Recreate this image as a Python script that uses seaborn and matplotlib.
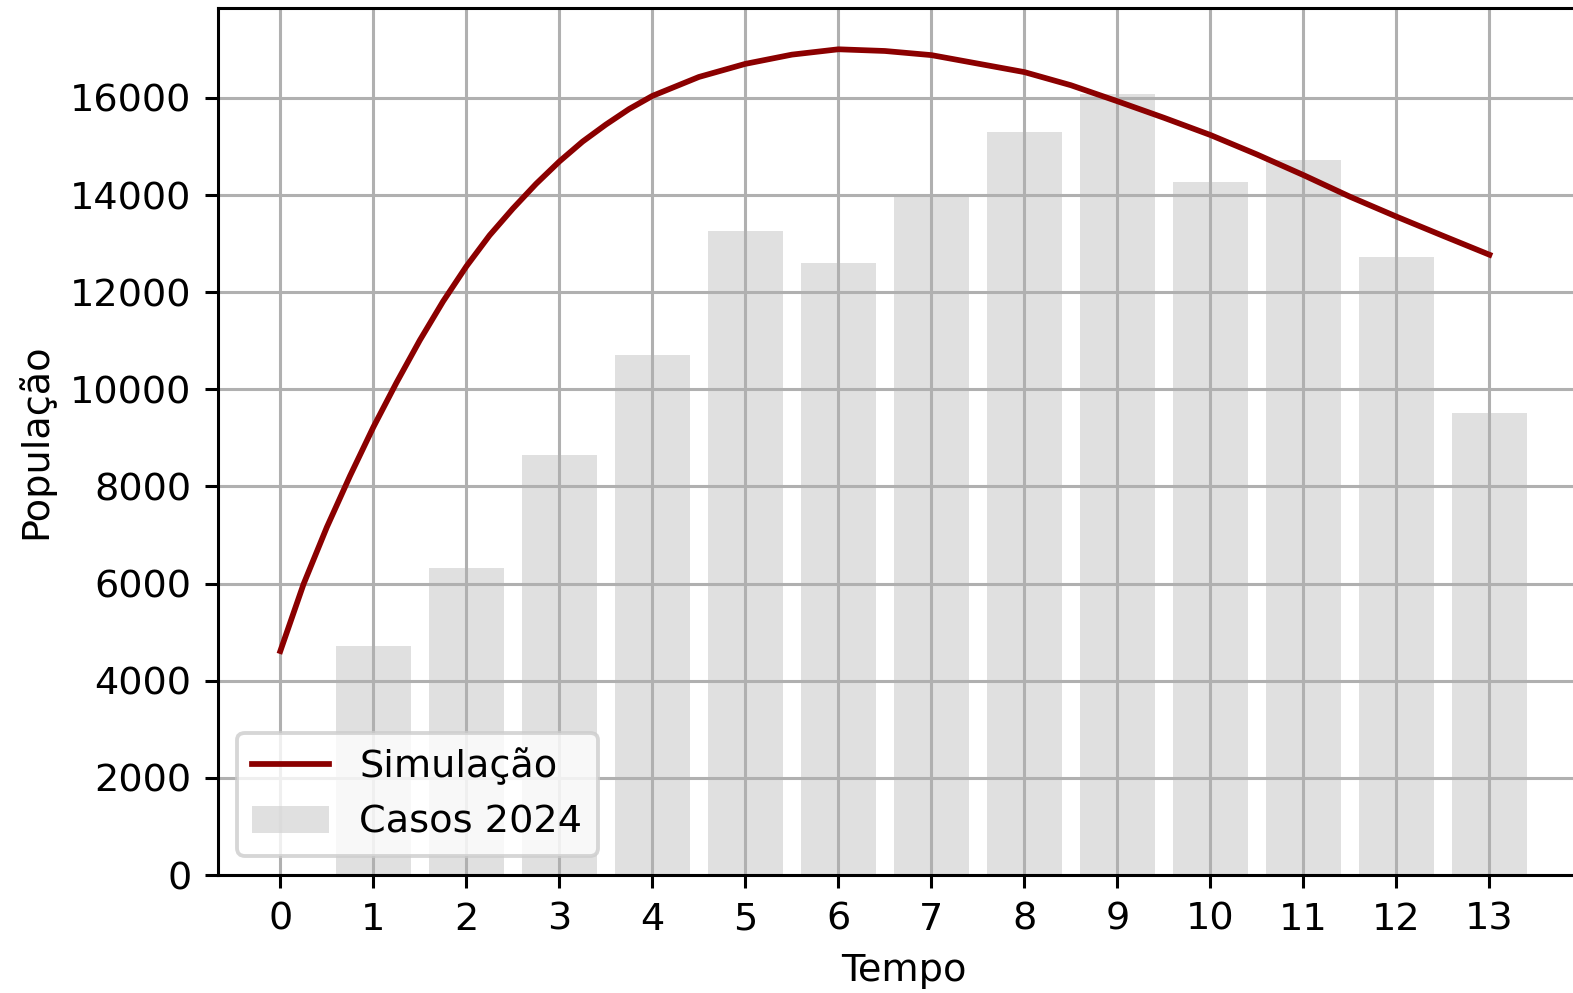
import matplotlib
matplotlib.use('Agg')
import matplotlib.pyplot as plt
import seaborn as sns

# Casos reais (barras)
tempo_casos = [1, 2, 3, 4, 5, 6, 7, 8, 9, 10, 11, 12, 13]
casos_2024 = [4720, 6330, 8650, 10700, 13250, 12610, 14000, 15300, 16070,
              14270, 14720, 12730, 9510]

# Curva da simulação
tempo_sim = [0, 0.25, 0.5, 0.75, 1, 1.25, 1.5, 1.75, 2, 2.25, 2.5, 2.75, 3,
             3.25, 3.5, 3.75, 4, 4.5, 5, 5.5, 6, 6.5, 7, 7.5, 8, 8.5, 9,
             9.5, 10, 10.5, 11, 11.5, 12, 12.5, 13]
simulacao = [4610, 5990, 7160, 8220, 9220, 10140, 11010, 11810, 12530,
             13170, 13720, 14230, 14690, 15100, 15450, 15770, 16040, 16430,
             16700, 16890, 17000, 16965, 16880, 16705, 16530, 16260, 15930,
             15590, 15235, 14835, 14410, 13965, 13555, 13160, 12770]

fig = plt.figure(figsize=(1573 / 275, 993 / 275), dpi=275)
ax = fig.add_axes([218 / 1573, 1 - 875 / 993, (1589 - 218) / 1573, (875 - 8) / 993])

sns.lineplot(x=tempo_sim, y=simulacao, color='darkred', linewidth=1.5,
             label='Simulação', ax=ax)
sns.barplot(x=tempo_casos, y=casos_2024, native_scale=True, width=0.8,
            color='lightgray', alpha=0.7, linewidth=0, saturation=1,
            label='Casos 2024', ax=ax)

ax.set_xticks(range(14))
ax.set_xlabel('Tempo')
ax.set_ylabel('População')
ax.grid(True)
ax.legend(loc='lower left')

fig.savefig('out.png', dpi=275)
